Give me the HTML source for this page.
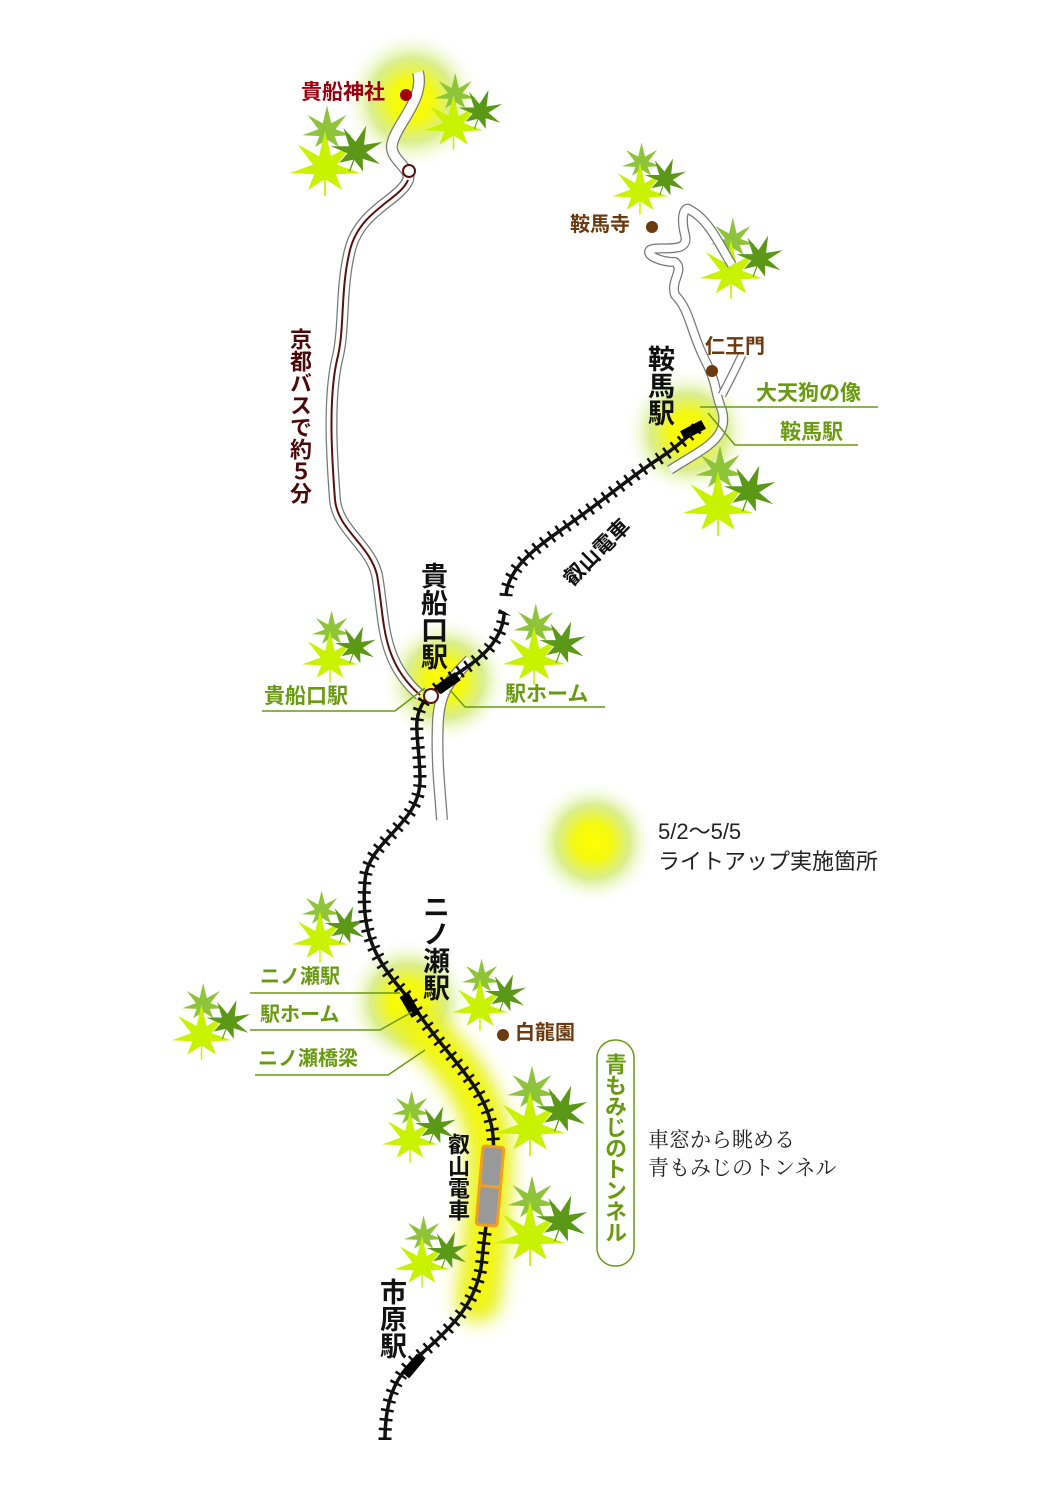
<!DOCTYPE html>
<html><head><meta charset="utf-8"><style>
html,body{margin:0;padding:0;background:#fff}
#w{position:relative;width:1057px;height:1500px;overflow:hidden;font-family:"Liberation Sans","Noto Sans CJK JP",sans-serif}
.v{position:absolute;writing-mode:vertical-rl;font-weight:bold;line-height:1}
.t{position:absolute;font-weight:bold;white-space:nowrap;line-height:1}
</style></head><body><div id="w">
<svg width="1057" height="1500" viewBox="0 0 1057 1500" style="position:absolute;left:0;top:0">
<defs>
<radialGradient id="g"><stop offset="0" stop-color="#ffff00"/><stop offset="0.3" stop-color="#f4fa10"/><stop offset="0.6" stop-color="#cfe86a" stop-opacity="0.75"/><stop offset="1" stop-color="#ffffff" stop-opacity="0"/></radialGradient>
<filter id="b" x="-50%" y="-50%" width="200%" height="200%"><feGaussianBlur stdDeviation="9"/></filter>
<g id="lf"><line x1="0" y1="5" x2="0" y2="24" stroke-width="1.5"/><polygon stroke="none" points="0,-30 5,-9 23,-19 10,-2 29,5 9,6 14,19 0,10 -14,19 -9,6 -29,5 -10,-2 -23,-19 -5,-9"/></g>
<g id="cl">
<use href="#lf" fill="#8fc43a" stroke="#8fc43a" transform="translate(-8,-24) scale(0.85)"/>
<use href="#lf" fill="#c9f200" stroke="#c9f200" transform="translate(-10,12) scale(1.2)"/>
<use href="#lf" fill="#5c9818" stroke="#5c9818" transform="translate(22,-4) rotate(20) scale(0.9)"/>
</g>
<path id="bus" d="M418,72 C425,100 395,125 392,145 C390,160 412,168 408,180 C400,200 360,210 350,250 C340,290 345,330 337,360 C328,400 332,460 335,500 C338,530 370,545 377,575 C385,620 380,660 420,695"/>
<path id="r2" d="M470,660 C450,680 440,690 438,720 C436,760 440,790 442,820"/>
<path id="ku" d="M670,470 C700,450 730,440 722,410 C715,395 718,385 705,360 C690,330 690,310 675,295 C670,280 685,270 675,262 C660,262 645,255 650,250 C660,245 690,255 685,235 C680,215 685,205 690,210 C710,220 722,250 732,265"/>
<path id="ku2" d="M722,395 C730,380 735,370 742,355"/>
<path id="rl" d="M385,1440 C385,1400 395,1375 420,1355 C455,1325 478,1300 482,1260 C486,1215 500,1150 490,1120 C480,1080 440,1050 410,1000 C380,965 360,940 365,880 C368,840 420,825 420,780 C420,740 410,720 425,700 C440,680 480,665 495,640 C505,625 503,615 505,612 M506,596 C508,565 540,545 575,520 C610,495 640,470 660,458 C675,448 690,435 700,425"/>
</defs>
<circle cx="412" cy="100" r="70" fill="url(#g)"/>
<circle cx="688" cy="432" r="64" fill="url(#g)"/>
<circle cx="445" cy="680" r="64" fill="url(#g)"/>
<circle cx="408" cy="1002" r="64" fill="url(#g)"/>
<circle cx="593" cy="842" r="62" fill="url(#g)"/>
<path d="M420,1030 C470,1070 495,1120 490,1180 C486,1230 484,1260 478,1300" fill="none" stroke="#e6f020" stroke-width="44" filter="url(#b)" stroke-linecap="round"/>
<path d="M420,1030 C470,1070 495,1120 490,1180 C486,1230 484,1260 478,1300" fill="none" stroke="#ffff00" stroke-width="14" filter="url(#b)" stroke-linecap="round"/>
<use href="#cl" transform="translate(335,155)"/>
<use href="#cl" transform="translate(462,115) scale(0.85)"/>
<use href="#cl" transform="translate(648,182) scale(0.8)"/>
<use href="#cl" transform="translate(740,262) scale(0.9)"/>
<use href="#cl" transform="translate(728,495)"/>
<use href="#cl" transform="translate(338,650) scale(0.8)"/>
<use href="#cl" transform="translate(543,648) scale(0.9)"/>
<use href="#cl" transform="translate(328,930) scale(0.8)"/>
<use href="#cl" transform="translate(210,1025) scale(0.85)"/>
<use href="#cl" transform="translate(488,998) scale(0.8)"/>
<use href="#cl" transform="translate(540,1115)"/>
<use href="#cl" transform="translate(418,1130) scale(0.8)"/>
<use href="#cl" transform="translate(540,1225)"/>
<use href="#cl" transform="translate(430,1255) scale(0.8)"/>
<g fill="none" stroke-linejoin="round">
<use href="#bus" stroke="#777" stroke-width="12"/>
<use href="#bus" stroke="#fff" stroke-width="9.5"/>
<path d="M408,180 C400,200 360,210 350,250 C340,290 345,330 337,360 C328,400 332,460 335,500 C338,530 370,545 377,575 C385,620 380,660 420,695" stroke="#5a1010" stroke-width="2"/>
<use href="#r2" stroke="#777" stroke-width="12"/>
<use href="#r2" stroke="#fff" stroke-width="9.5"/>
<use href="#ku" stroke="#777" stroke-width="10"/>
<use href="#ku" stroke="#fff" stroke-width="7.5"/>
<use href="#ku2" stroke="#777" stroke-width="9"/>
<use href="#ku2" stroke="#fff" stroke-width="6.5"/>
<use href="#rl" stroke="#111" stroke-width="3.5"/>
<use href="#rl" stroke="#111" stroke-width="13" stroke-dasharray="2.5 7"/>
</g>
<rect x="-12" y="-5" width="24" height="10" fill="#000" transform="translate(693,430) rotate(-28)"/>
<rect x="-12" y="-5" width="24" height="10" fill="#000" transform="translate(448,683) rotate(-35)"/>
<rect x="-5" y="-12" width="10" height="24" fill="#000" transform="translate(410,1005) rotate(-30)"/>
<rect x="-5" y="-12" width="10" height="24" fill="#000" transform="translate(413,1366) rotate(40)"/>
<rect x="478" y="1145" width="24" height="82" rx="4" fill="#f0a020" transform="rotate(5 490 1186)"/>
<rect x="481" y="1148" width="18" height="37" rx="2" fill="#999" transform="rotate(5 490 1186)"/>
<rect x="481" y="1188" width="18" height="36" rx="2" fill="#999" transform="rotate(5 490 1186)"/>
<circle cx="409" cy="171" r="6" fill="#fff" stroke="#5a1010" stroke-width="2"/>
<circle cx="431" cy="696" r="7" fill="#fff" stroke="#5a1010" stroke-width="2"/>
<circle cx="406" cy="95" r="6" fill="#a00010"/>
<circle cx="652" cy="227" r="6" fill="#6b3a10"/>
<circle cx="712" cy="371" r="6" fill="#6b3a10"/>
<circle cx="503" cy="1035" r="6" fill="#6b3a10"/>
<g stroke="#6a9a10" stroke-width="1.5" fill="none">
<polyline points="700,407 878,407"/>
<polyline points="708,413 735,445 858,445"/>
<polyline points="262,711 395,711 425,688"/>
<polyline points="605,707 465,707 450,690"/>
<polyline points="250,993 400,993"/>
<polyline points="250,1030 380,1030 412,1012"/>
<polyline points="255,1075 388,1075 425,1050"/>
<rect x="597" y="1040" width="37" height="226" rx="18"/>
</g>
</svg>
<div class="t" style="left:301px;top:82px;font-size:21px;color:#9a0010">貴船神社</div>
<div class="t" style="left:570px;top:215px;font-size:20px;color:#6b3a10">鞍馬寺</div>
<div class="t" style="left:705px;top:337px;font-size:20px;color:#6b3a10">仁王門</div>
<div class="t" style="left:756px;top:383px;font-size:21px;color:#6a9a10">大天狗の像</div>
<div class="t" style="left:780px;top:422px;font-size:21px;color:#6a9a10">鞍馬駅</div>
<div class="t" style="left:264px;top:686px;font-size:21px;color:#6a9a10">貴船口駅</div>
<div class="t" style="left:505px;top:684px;font-size:21px;color:#6a9a10">駅ホーム</div>
<div class="t" style="left:260px;top:967px;font-size:20px;color:#6a9a10">ニノ瀬駅</div>
<div class="t" style="left:260px;top:1005px;font-size:20px;color:#6a9a10">駅ホーム</div>
<div class="t" style="left:258px;top:1049px;font-size:20px;color:#6a9a10">ニノ瀬橋梁</div>
<div class="t" style="left:515px;top:1023px;font-size:20px;color:#6b3a10">白龍園</div>
<div class="v" style="left:645px;top:345px;font-size:27px;color:#111">鞍馬駅</div>
<div class="v" style="left:418px;top:562px;font-size:27px;color:#111">貴船口駅</div>
<div class="v" style="left:420px;top:893px;font-size:27px;color:#111">ニノ瀬駅</div>
<div class="v" style="left:377px;top:1278px;font-size:27px;color:#111">市原駅</div>
<div class="v" style="left:288px;top:328px;font-size:22px;color:#4a0a0a">京都バスで約５分</div>
<div class="v" style="left:446px;top:1133px;font-size:22px;color:#111">叡山電車</div>
<div class="v" style="left:603px;top:1053px;font-size:22px;letter-spacing:-1px;color:#6a9a10">青もみじのトンネル</div>
<div class="t" style="left:560px;top:575px;font-size:21px;color:#111;transform:rotate(-45deg);transform-origin:left top">叡山電車</div>
<div class="t" style="left:658px;top:817px;font-size:22px;color:#222;font-weight:normal;line-height:30px">5/2〜5/5<br>ライトアップ実施箇所</div>
<div class="t" style="left:648px;top:1126px;font-size:21px;color:#222;font-weight:normal;line-height:28px;font-family:'Liberation Serif','Noto Serif CJK SC',serif">車窓から眺める<br>青もみじのトンネル</div>
</div></body></html>
